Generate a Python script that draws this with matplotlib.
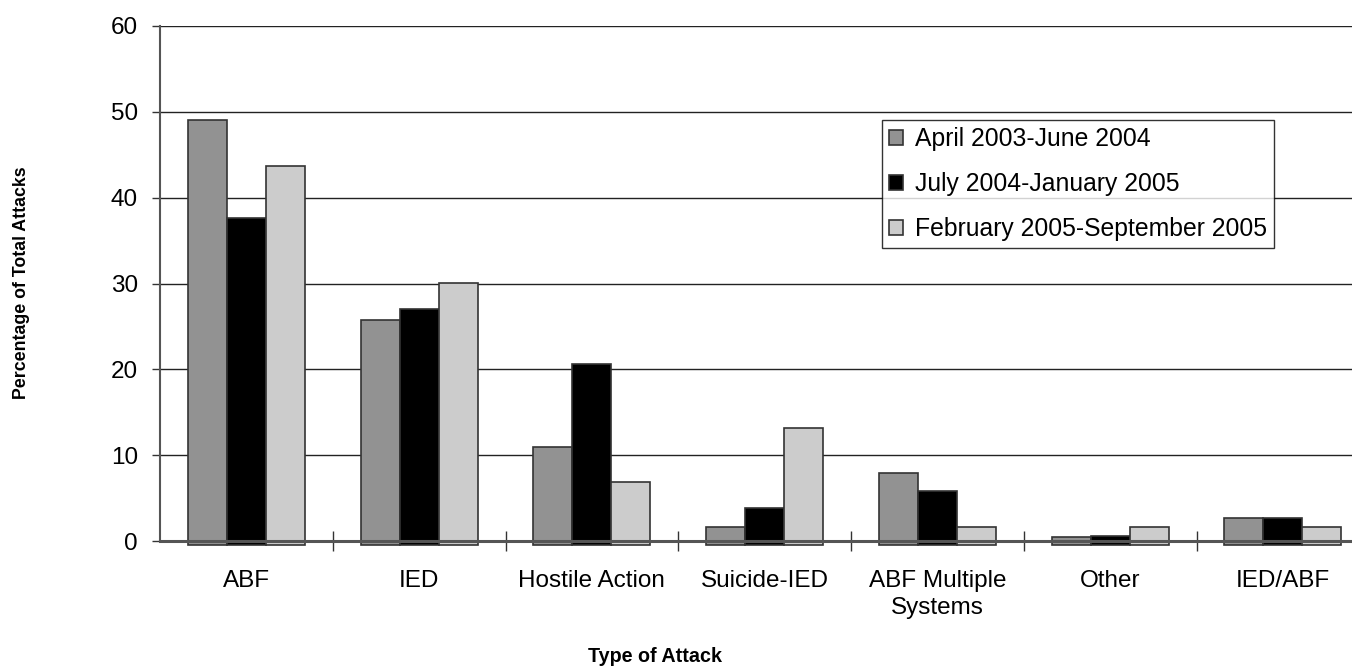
import matplotlib.pyplot as plt
import numpy as np

plt.rcParams['font.family'] = ['Liberation Sans', 'DejaVu Sans']

categories = ['ABF', 'IED', 'Hostile Action', 'Suicide-IED',
              'ABF Multiple\nSystems', 'Other', 'IED/ABF']
series = ['April 2003-June 2004', 'July 2004-January 2005',
          'February 2005-September 2005']
apr03_jun04 = [49.0, 25.8, 11.0, 1.6, 7.9, 0.5, 2.7]
jul04_jan05 = [37.6, 27.0, 20.6, 3.8, 5.8, 0.55, 2.7]
feb05_sep05 = [43.7, 30.0, 6.9, 13.2, 1.6, 1.6, 1.6]
colors = ['#929292', '#000000', '#cccccc']

fig = plt.figure(figsize=(13.52, 6.69), dpi=100)
ax = fig.add_axes([160 / 1352, 1 - 541 / 669, 1 - 160 / 1352, (541 - 26) / 669])

x = np.arange(len(categories))
w = 0.226
sink = 0.5  # bars poke a little below the zero line, as in the original
for i, (vals, lab) in enumerate(zip([apr03_jun04, jul04_jan05, feb05_sep05], series)):
    ax.bar(x + (i - 1) * w, np.add(vals, sink), w, bottom=-sink, color=colors[i],
           edgecolor='#333333', linewidth=1.2, label=lab, zorder=3, clip_on=False)

ax.set_xlim(-0.5, 6.4)
ax.set_ylim(0, 60)
ax.set_yticks(np.arange(0, 61, 10))
ax.yaxis.grid(True, color='#222222', linewidth=1.0, zorder=0)
ax.set_axisbelow(True)

for s in ['top', 'right']:
    ax.spines[s].set_visible(False)
ax.spines['left'].set_color('#555555')
ax.spines['left'].set_linewidth(1.5)
ax.spines['bottom'].set_color('#555555')
ax.spines['bottom'].set_linewidth(2.2)
ax.spines['bottom'].set_zorder(4)

ax.set_xticks(np.arange(0.5, 6.5, 1))
ax.set_xticklabels([])
ax.tick_params(axis='x', which='major', direction='inout', length=14, width=1, color='#333333')
ax.set_xticks(x, minor=True)
ax.set_xticklabels(categories, minor=True, linespacing=1.3)
ax.tick_params(axis='x', which='minor', length=0, pad=21, labelsize=17.5)
ax.tick_params(axis='y', direction='out', length=6, width=1, color='#333333',
               pad=10, labelsize=17.5)

leg = ax.legend(loc='upper left', bbox_to_anchor=(882 / 1352, 1 - 120 / 669),
                bbox_transform=fig.transFigure, fontsize=17.8, frameon=True,
                fancybox=False, handlelength=0.55, handleheight=0.55,
                handletextpad=0.5, labelspacing=0.85, borderpad=0.28,
                borderaxespad=0)
leg.get_frame().set_edgecolor('#000000')
leg.get_frame().set_linewidth(1.0)

fig.text(22 / 1352, 1 - 283 / 669, 'Percentage of Total Attacks', rotation=90,
         ha='center', va='center', fontsize=12.8, fontweight='bold')
fig.text(655 / 1352, 1 - 656 / 669, 'Type of Attack', ha='center', va='center',
         fontsize=14.2, fontweight='bold')

plt.savefig('out.png', dpi=100)
